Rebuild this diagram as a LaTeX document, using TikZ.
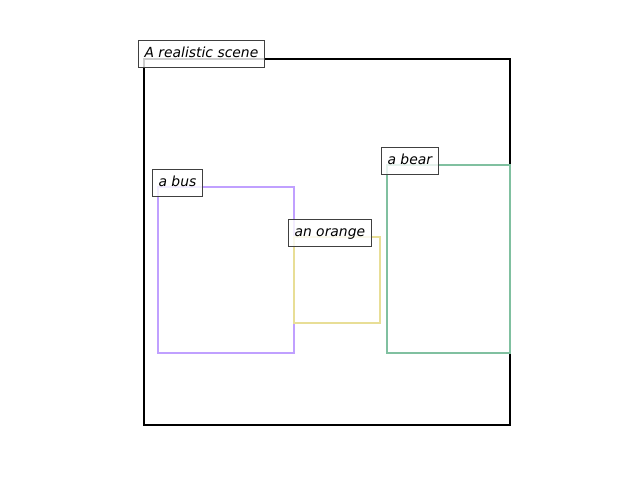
\documentclass[tikz,border=0pt]{standalone}
\usepackage{fontspec}
\setmainfont{DejaVu Sans}
\definecolor{buscol}{RGB}{192,160,255}
\definecolor{orangecol}{RGB}{232,222,150}
\definecolor{bearcol}{RGB}{128,192,160}
\begin{document}
\begin{tikzpicture}[x=1pt,y=-1pt,
  region/.style={line width=2pt},
  tag/.style={draw=black!75, fill=white, fill opacity=0.8, text opacity=1, line width=1pt,
    inner xsep=6.5pt, inner ysep=0pt, text height=10.5pt, text depth=3pt, minimum height=27pt,
    anchor=west, font=\fontsize{13.9}{16}\selectfont\itshape}]
\useasboundingbox (0,0) rectangle (640,480);
\draw[region, black] (144,59) rectangle (510,425);
\draw[region, buscol] (158,187) rectangle (294,353);
\draw[region, orangecol] (294,237) rectangle (380,323);
\draw[region, bearcol] (387,165) rectangle (510,353);
\node[tag] (scene) at (137.5,54) {A realistic scene};
\node[tag] (bus) at (151.5,183) {a bus};
\node[tag] (orange) at (287.5,233) {an orange};
\node[tag] (bear) at (380.5,161) {a bear};
\end{tikzpicture}
\end{document}
